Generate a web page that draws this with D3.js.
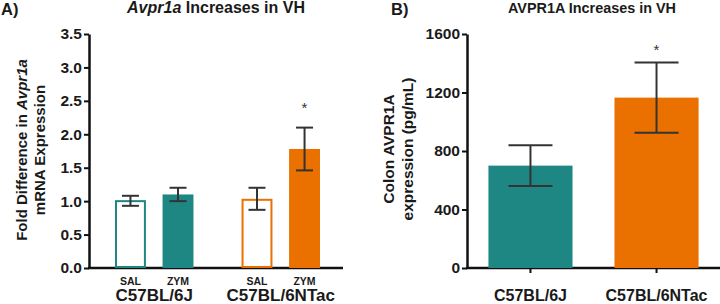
<!DOCTYPE html>
<html>
<head>
<meta charset="utf-8">
<script src="https://cdn.jsdelivr.net/npm/d3@7"></script>
<style>
  body { margin: 0; background: #fff; }
  svg text { font-family: "Liberation Sans", Arial, sans-serif; font-weight: bold; fill: #1a1a1a; }
  svg text.light { font-weight: normal; }
</style>
</head>
<body>
<div id="chart"></div>
<script>
// panel A data
var strainsA = ["C57BL/6J", "C57BL/6NTac"];
var treatments = ["SAL", "ZYM"];
var meanA = [[1.00, 1.10], [1.02, 1.78]];
var lowA = [[0.93, 1.00], [0.87, 1.46]];
var highA = [[1.08, 1.20], [1.20, 2.10]];
var ticksA = [0, 0.5, 1.0, 1.5, 2.0, 2.5, 3.0, 3.5];
var starA = [null, 2.45];

// panel B data
var strainsB = ["C57BL/6J", "C57BL/6NTac"];
var meanB = [700, 1165];
var lowB = [560, 925];
var highB = [840, 1405];
var ticksB = [0, 400, 800, 1200, 1600];
var starB = [null, 1515];

var colors = ["#1f8783", "#ea7000"];

var svg = d3.select("#chart").append("svg")
    .attr("width", 720).attr("height", 304);

// ---------- Panel A ----------
var y = d3.scaleLinear().domain([0, 3.5]).range([268, 34]);
var x0 = d3.scaleBand().domain(strainsA).range([115, 320]).paddingInner(0.38).paddingOuter(0);
var x1 = d3.scaleBand().domain(treatments).range([0, x0.bandwidth()]).paddingInner(0.35);

var gA = svg.append("g");

gA.append("g")
    .attr("transform", "translate(89,0)")
    .call(d3.axisLeft(y).tickValues(ticksA).tickFormat(d3.format(".1f")).tickSize(5).tickSizeOuter(0).tickPadding(2))
    .call(function(g){
        g.select(".domain").attr("stroke", "#111").attr("stroke-width", 2.5);
        g.selectAll(".tick line").attr("stroke", "#111").attr("stroke-width", 2);
        g.selectAll(".tick text").attr("font-size", 15.5).attr("fill", "#1a1a1a");
    });

gA.append("line").attr("x1", 88).attr("x2", 343).attr("y1", y(0)).attr("y2", y(0))
    .attr("stroke", "#111").attr("stroke-width", 2.5);

strainsA.forEach(function(s, i){
    var g = gA.append("g").attr("transform", "translate(" + x0(s) + ",0)");
    treatments.forEach(function(t, j){
        var filled = (t === "ZYM");
        var bx = x1(t), bw = x1.bandwidth();
        if (filled) {
            g.append("rect").attr("x", bx).attr("y", y(meanA[i][j]))
                .attr("width", bw).attr("height", y(0) - y(meanA[i][j]))
                .attr("fill", colors[i]);
        } else {
            g.append("rect").attr("x", bx + 1).attr("y", y(meanA[i][j]))
                .attr("width", bw - 2).attr("height", y(0) - y(meanA[i][j]) - 1)
                .attr("fill", "#fff").attr("stroke", colors[i]).attr("stroke-width", 2);
        }
        var cx = bx + bw / 2;
        var eb = g.append("g").attr("stroke", "#333").attr("stroke-width", 2);
        eb.append("line").attr("x1", cx).attr("x2", cx).attr("y1", y(lowA[i][j])).attr("y2", y(highA[i][j]));
        eb.append("line").attr("x1", cx - 8.5).attr("x2", cx + 8.5).attr("y1", y(lowA[i][j])).attr("y2", y(lowA[i][j]));
        eb.append("line").attr("x1", cx - 8.5).attr("x2", cx + 8.5).attr("y1", y(highA[i][j])).attr("y2", y(highA[i][j]));
        g.append("text").attr("x", cx).attr("y", 285).attr("text-anchor", "middle")
            .attr("font-size", 10.5).text(t);
        if (filled && starA[i] !== null) {
            g.append("text").attr("class", "light").attr("x", cx).attr("y", y(starA[i]) + 9).attr("text-anchor", "middle")
                .attr("font-size", 15).style("fill", "#333").text("*");
        }
    });
    gA.append("text").attr("x", x0(s) + x0.bandwidth() / 2).attr("y", 301)
        .attr("text-anchor", "middle").attr("font-size", 17).text(s);
});

gA.append("text").attr("x", 1).attr("y", 15).attr("font-size", 16.5).text("A)");
var tA = gA.append("text").attr("x", 216).attr("y", 13).attr("text-anchor", "middle").attr("font-size", 16);
tA.append("tspan").attr("font-style", "italic").text("Avpr1a");
tA.append("tspan").text(" Increases in VH");

var ylA = gA.append("g").attr("transform", "translate(0,150) rotate(-90)");
var l1 = ylA.append("text").attr("x", 0).attr("y", 27).attr("text-anchor", "middle").attr("font-size", 15);
l1.append("tspan").text("Fold Difference in ");
l1.append("tspan").attr("font-style", "italic").text("Avpr1a");
ylA.append("text").attr("x", 0).attr("y", 44.5).attr("text-anchor", "middle").attr("font-size", 15)
    .text("mRNA Expression");

// ---------- Panel B ----------
var yB = d3.scaleLinear().domain([0, 1600]).range([268, 34]);
var xB = d3.scaleBand().domain(strainsB).range([467, 720]).paddingInner(0.333).paddingOuter(0.17);

var gB = svg.append("g");

gB.append("g")
    .attr("transform", "translate(467,0)")
    .call(d3.axisLeft(yB).tickValues(ticksB).tickFormat(d3.format("d")).tickSize(5).tickSizeOuter(0).tickPadding(2))
    .call(function(g){
        g.select(".domain").attr("stroke", "#111").attr("stroke-width", 2.5);
        g.selectAll(".tick line").attr("stroke", "#111").attr("stroke-width", 2);
        g.selectAll(".tick text").attr("font-size", 15.5).attr("fill", "#1a1a1a");
    });

gB.append("g")
    .attr("transform", "translate(0," + yB(0) + ")")
    .call(d3.axisBottom(xB).tickSize(5).tickSizeOuter(0).tickPadding(17))
    .call(function(g){
        g.select(".domain").attr("stroke", "#111").attr("stroke-width", 2.5).attr("d", "M466,0H720");
        g.selectAll(".tick line").attr("stroke", "#111").attr("stroke-width", 2);
        g.selectAll(".tick text").attr("font-size", 16).attr("fill", "#1a1a1a");
    });

gB.selectAll("rect.bar").data(meanB).enter().append("rect")
    .attr("class", "bar")
    .attr("x", function(d, i){ return xB(strainsB[i]); })
    .attr("y", function(d){ return yB(d); })
    .attr("width", xB.bandwidth())
    .attr("height", function(d){ return yB(0) - yB(d); })
    .attr("fill", function(d, i){ return colors[i]; });

strainsB.forEach(function(s, i){
    var cx = xB(s) + xB.bandwidth() / 2;
    var eb = gB.append("g").attr("stroke", "#333").attr("stroke-width", 2);
    eb.append("line").attr("x1", cx).attr("x2", cx).attr("y1", yB(lowB[i])).attr("y2", yB(highB[i]));
    eb.append("line").attr("x1", cx - 22).attr("x2", cx + 22).attr("y1", yB(lowB[i])).attr("y2", yB(lowB[i]));
    eb.append("line").attr("x1", cx - 22).attr("x2", cx + 22).attr("y1", yB(highB[i])).attr("y2", yB(highB[i]));
    if (starB[i] !== null) {
        gB.append("text").attr("class", "light").attr("x", cx).attr("y", yB(starB[i]) + 9).attr("text-anchor", "middle")
            .attr("font-size", 15).style("fill", "#333").text("*");
    }
});

gB.append("text").attr("x", 391).attr("y", 15).attr("font-size", 16.5).text("B)");
gB.append("text").attr("x", 592).attr("y", 13).attr("text-anchor", "middle").attr("font-size", 15)
    .attr("textLength", 168).attr("lengthAdjust", "spacingAndGlyphs")
    .text("AVPR1A Increases in VH");

var ylB = gB.append("g").attr("transform", "translate(370,149) rotate(-90)");
ylB.append("text").attr("x", 0).attr("y", 24).attr("text-anchor", "middle").attr("font-size", 15.5)
    .text("Colon AVPR1A");
ylB.append("text").attr("x", 0).attr("y", 43).attr("text-anchor", "middle").attr("font-size", 15.5)
    .text("expression (pg/mL)");
</script>
</body>
</html>
